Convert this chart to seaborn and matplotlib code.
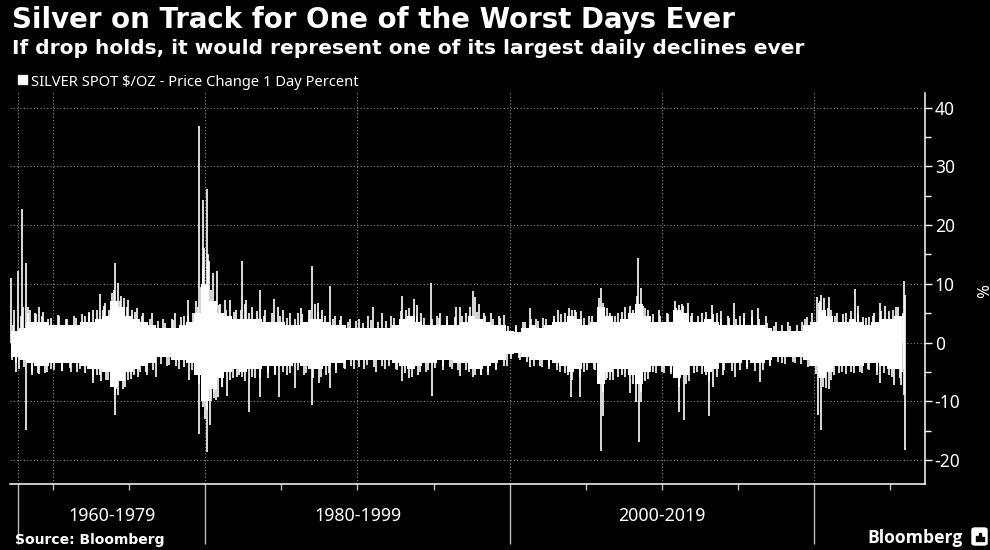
import matplotlib
matplotlib.use("Agg")
import matplotlib.pyplot as plt
import matplotlib.transforms as mtransforms
from matplotlib.patches import Rectangle, FancyBboxPatch
from matplotlib.ticker import FixedLocator, FuncFormatter, NullFormatter
import pandas as pd
import seaborn as sns

# ---------------- data ----------------
# Dense "core" band of daily % changes, one value per half-year (centre 1967.5 ... 2025.5)
core_up = [2.0, 2.5, 3.5, 3.5, 3.5, 3.0, 3.0, 3.0, 3.0, 3.5,
           3.5, 4.0, 4.5, 7.0, 6.0, 4.5, 4.0, 3.5, 3.0, 2.5,
           2.5, 2.5, 3.0, 3.5, 5.0, 10.0, 7.0, 5.0, 4.5, 4.0,
           4.0, 4.0, 4.0, 3.5, 3.5, 3.5, 3.0, 3.0, 3.5, 4.0,
           4.0, 3.5, 3.0, 3.0, 2.5, 2.5, 2.5, 2.5, 2.5, 2.5,
           3.0, 4.0, 4.5, 3.5, 3.0, 3.0, 3.0, 3.0, 3.0, 3.5,
           4.5, 4.0, 3.5, 3.0, 3.0, 2.0, 1.8, 2.5, 3.0, 2.5,
           3.0, 3.5, 3.5, 4.5, 4.0, 3.0, 3.5, 6.0, 4.5, 3.5,
           4.0, 5.0, 6.5, 4.5, 3.5, 3.5, 3.5, 5.5, 5.0, 3.5,
           3.5, 4.0, 3.5, 3.0, 3.0, 3.0, 3.0, 3.0, 3.0, 2.5,
           2.0, 2.0, 2.0, 2.0, 3.0, 3.5, 5.5, 4.5, 3.5, 3.5,
           4.0, 3.5, 3.0, 3.5, 4.0, 4.0, 4.5]
core_down = [-2.5, -3.0, -3.5, -4.0, -4.0, -3.5, -3.5, -3.5, -3.5, -4.0,
             -4.5, -4.5, -5.0, -7.5, -6.5, -5.0, -4.5, -4.0, -3.5, -2.5,
             -2.5, -3.0, -3.0, -3.5, -5.5, -10.0, -8.0, -6.0, -5.0, -4.5,
             -5.0, -4.5, -4.5, -4.0, -4.0, -4.0, -4.0, -3.5, -4.0, -4.5,
             -4.5, -4.0, -3.5, -3.5, -3.0, -3.0, -3.0, -3.0, -3.0, -3.0,
             -3.5, -4.0, -4.5, -4.0, -3.5, -3.5, -3.0, -3.0, -3.5, -3.5,
             -4.5, -4.5, -4.0, -3.5, -3.0, -2.0, -1.8, -2.5, -3.0, -3.0,
             -3.0, -3.5, -4.0, -5.0, -4.5, -3.5, -3.5, -7.0, -5.0, -4.5,
             -4.5, -5.5, -7.0, -5.0, -4.0, -4.0, -4.0, -6.0, -5.5, -4.0,
             -4.0, -5.0, -4.5, -3.5, -3.5, -3.5, -3.0, -3.5, -3.5, -3.0,
             -2.5, -2.5, -2.5, -2.5, -3.0, -4.0, -6.0, -5.0, -4.0, -4.0,
             -4.0, -4.0, -3.5, -3.5, -4.0, -4.5, -4.5]
core_years = [1967.5 + 0.5 * i for i in range(len(core_up))]

# Fringe of frequent moderate moves sticking out of the core, one up / one down per half-year
fringe_up = [3.0, 4.5, 5.0, 4.8, 5.2, 4.2, 4.5, 4.0, 4.6, 4.8,
             5.2, 5.6, 6.2, 8.5, 7.0, 6.0, 5.2, 4.6, 4.0, 3.6,
             3.4, 3.8, 4.4, 4.6, 7.0, 12.5, 9.0, 6.4, 5.6, 5.2,
             5.5, 5.0, 5.4, 4.6, 5.0, 4.5, 4.2, 4.0, 4.8, 5.5,
             5.2, 4.6, 4.0, 3.8, 3.5, 3.6, 3.4, 3.8, 3.5, 3.6,
             4.2, 5.4, 5.8, 4.6, 4.2, 4.0, 4.2, 3.8, 4.4, 4.6,
             6.0, 5.2, 4.5, 4.0, 4.2, 2.8, 2.6, 3.5, 4.0, 3.6,
             4.0, 4.6, 4.8, 5.8, 5.2, 4.2, 4.6, 7.5, 5.8, 4.6,
             5.2, 6.2, 8.0, 5.8, 4.8, 4.6, 4.8, 7.0, 6.2, 4.6,
             4.5, 5.2, 4.8, 4.0, 4.2, 4.0, 4.2, 4.4, 4.0, 3.4,
             2.8, 3.0, 2.8, 3.0, 4.0, 5.0, 7.0, 5.8, 4.6, 4.8,
             5.4, 4.8, 4.2, 4.6, 5.4, 5.4, 6.0]
fringe_down = [-3.5, -4.2, -5.0, -5.4, -5.0, -4.6, -4.8, -4.4, -5.0, -5.2,
               -5.8, -5.6, -6.4, -9.0, -8.0, -6.2, -5.8, -5.0, -4.6, -3.6,
               -3.8, -4.0, -4.2, -4.6, -7.0, -11.5, -9.5, -7.5, -6.4, -5.8,
               -6.5, -5.8, -6.0, -5.2, -5.4, -5.0, -5.2, -4.6, -5.2, -6.0,
               -5.8, -5.2, -4.6, -4.4, -4.0, -4.2, -3.8, -4.2, -4.0, -4.0,
               -4.6, -5.2, -5.8, -5.0, -4.6, -4.4, -4.0, -4.2, -4.6, -4.6,
               -5.8, -5.6, -5.0, -4.6, -4.0, -2.8, -2.6, -3.4, -4.0, -4.2,
               -4.0, -4.6, -5.2, -6.4, -5.8, -4.6, -4.6, -8.5, -6.4, -5.8,
               -5.8, -7.0, -8.5, -6.2, -5.2, -5.2, -5.4, -7.5, -7.0, -5.2,
               -5.4, -6.5, -5.8, -4.6, -4.8, -4.6, -4.2, -4.8, -4.6, -4.0,
               -3.4, -3.6, -3.4, -3.6, -4.2, -5.4, -7.5, -6.4, -5.2, -5.4,
               -5.2, -5.2, -4.6, -4.8, -5.2, -5.8, -6.0]

# Individual large daily moves (year, % change)
spike_years = [
    1967.27, 1967.28, 1967.45, 1967.60, 1967.70, 1967.75, 1968.00, 1968.05, 1968.20, 1968.22,
    1968.35, 1968.50, 1968.60, 1968.80, 1969.00, 1969.10, 1969.30, 1969.50, 1969.70, 1969.90,
    1970.35, 1970.60, 1970.90, 1971.20, 1971.50, 1971.80, 1972.10, 1972.40, 1972.60, 1972.62,
    1972.90, 1973.10, 1973.15, 1973.30, 1973.45, 1973.50, 1973.70, 1973.85, 1974.00, 1974.07,
    1974.08, 1974.15, 1974.27, 1974.30, 1974.50, 1974.66, 1974.70, 1974.90, 1974.92, 1975.20,
    1975.30, 1975.50, 1975.70, 1975.90, 1976.20, 1976.50, 1976.80, 1977.20, 1977.50, 1977.80,
    1978.00, 1978.30, 1978.60, 1978.90, 1978.92, 1979.20, 1979.35, 1979.50, 1979.60, 1979.62,
    1979.70, 1979.83, 1979.85, 1979.95, 1980.00, 1980.10, 1980.12, 1980.20, 1980.27, 1980.30,
    1980.40, 1980.50, 1980.55, 1980.70, 1980.80, 1980.82, 1981.00, 1981.10, 1981.30, 1981.45,
    1981.60, 1981.80, 1982.00, 1982.20, 1982.40, 1982.42, 1982.60, 1982.70, 1982.90, 1983.10,
    1983.30, 1983.60, 1983.62, 1983.90, 1984.10, 1984.50, 1984.60, 1984.80, 1984.82, 1985.10,
    1985.40, 1985.60, 1985.90, 1986.10, 1986.30, 1986.50, 1986.80, 1987.00, 1987.02, 1987.20,
    1987.40, 1987.45, 1987.70, 1987.90, 1988.20, 1988.22, 1988.50, 1988.60, 1988.90, 1989.20,
    1989.50, 1989.80, 1990.10, 1990.40, 1990.70, 1991.00, 1991.20, 1991.60, 1991.80, 1992.20,
    1992.50, 1992.90, 1992.95, 1993.20, 1993.40, 1993.70, 1993.90, 1993.95, 1994.20, 1994.50,
    1994.80, 1994.90, 1995.20, 1995.40, 1995.60, 1995.90, 1996.20, 1996.50, 1996.70, 1996.75,
    1997.10, 1997.30, 1997.60, 1997.70, 1997.75, 1998.00, 1998.10, 1998.30, 1998.60, 1998.80,
    1999.10, 1999.30, 1999.60, 1999.80, 2000.40, 2000.70, 2001.00, 2001.30, 2001.32, 2001.70,
    2002.00, 2002.20, 2002.60, 2002.90, 2003.20, 2003.30, 2003.60, 2003.80, 2004.00, 2004.10,
    2004.30, 2004.60, 2004.70, 2004.90, 2005.20, 2005.50, 2005.80, 2006.00, 2006.02, 2006.10,
    2006.15, 2006.30, 2006.40, 2006.60, 2006.80, 2007.10, 2007.40, 2007.60, 2007.90, 2008.10,
    2008.30, 2008.45, 2008.46, 2008.60, 2008.62, 2008.75, 2008.90, 2009.10, 2009.40, 2009.80,
    2010.00, 2010.30, 2010.60, 2010.90, 2011.10, 2011.12, 2011.30, 2011.45, 2011.70, 2011.80,
    2012.00, 2012.30, 2012.60, 2012.90, 2013.10, 2013.30, 2013.32, 2013.60, 2013.85, 2014.00,
    2014.30, 2014.70, 2014.80, 2015.10, 2015.40, 2015.60, 2015.90, 2016.30, 2016.45, 2016.80,
    2017.10, 2017.50, 2017.90, 2018.30, 2018.70, 2019.20, 2019.50, 2019.70, 2020.20, 2020.22,
    2020.30, 2020.45, 2020.47, 2020.55, 2020.65, 2020.80, 2020.95, 2020.97, 2021.10, 2021.30,
    2021.50, 2021.80, 2022.10, 2022.40, 2022.70, 2022.90, 2023.00, 2023.20, 2023.50, 2023.60,
    2023.90, 2024.10, 2024.30, 2024.32, 2024.65, 2024.90, 2025.20, 2025.22, 2025.50, 2025.70,
    2025.78, 2025.80, 2025.84, 2025.86, 2025.90, 2025.92, 2025.95, 2025.97]
spike_values = [
    11.0, -3.0, 5.5, -5.0, 12.1, -4.5, 22.7, 6.0, 13.6, -14.9,
    6.0, 5.5, -5.5, 5.0, -5.2, 6.1, 4.5, -5.2, 4.0, -4.5,
    4.7, -4.8, 4.0, -5.0, 4.2, -4.5, 4.5, 5.0, 5.6, -6.9,
    -5.5, 8.3, -6.6, 5.5, 6.7, -6.4, 5.5, -5.8, 9.0, 13.6,
    -12.3, -8.0, 10.2, -9.0, 8.0, 7.6, -7.5, 7.3, -6.4, 5.5,
    -5.5, 5.9, -5.0, 5.0, -5.5, 5.0, -5.8, 4.0, -4.0, 4.0,
    5.0, -4.5, 4.5, 7.3, -6.4, 5.0, -5.0, 6.0, 36.9, -15.5,
    9.5, 24.3, -11.0, 16.1, -13.0, 26.1, -18.6, 15.0, 13.8, -14.0,
    -10.0, 11.8, -8.5, -9.8, 12.1, -9.2, 6.5, -7.5, 7.3, -9.1,
    7.3, -6.0, 5.5, -5.5, 13.8, -5.8, 6.5, 7.3, -11.8, 6.0,
    -6.0, 9.0, -9.2, 5.5, -6.0, 7.4, -5.5, 6.1, -9.2, 5.5,
    -5.5, 5.0, -7.8, 5.0, 5.9, -5.5, 5.5, 13.0, -10.6, 6.5,
    6.7, -6.9, 5.5, -5.5, 9.7, -7.8, 4.5, -5.2, 4.5, -4.5,
    4.0, -4.5, 4.0, -4.5, 4.5, 6.1, -5.0, 5.1, -4.5, 4.5,
    -4.5, 8.0, -6.6, 5.5, -6.0, 7.4, 6.4, -5.5, 5.0, -5.0,
    10.2, -9.1, 4.5, 5.1, -4.7, 4.5, -4.5, 6.1, 6.1, -5.7,
    5.0, -5.0, 8.7, 7.8, -5.5, 6.5, -5.5, 5.0, -5.5, 5.0,
    -4.5, 4.5, 4.7, -4.0, 3.0, -3.0, 3.5, 5.9, -4.1, 4.0,
    -4.0, 4.2, -4.5, 4.0, 5.6, -5.0, 5.0, -5.5, -9.2, 5.5,
    5.5, -9.3, 5.3, -5.0, 4.5, -4.5, 5.0, 9.3, -18.4, -12.6,
    6.7, -6.4, -6.0, 5.0, -6.4, 5.0, -5.5, 6.1, -8.6, 5.5,
    -10.1, 14.4, -16.9, 9.3, -10.1, 6.3, -6.5, 5.5, -5.0, 5.6,
    -5.0, 5.0, -5.0, 5.9, 6.4, -11.8, 6.5, -13.2, 6.7, -6.5,
    5.0, -5.0, 5.0, -5.5, -12.5, 6.4, -7.5, 5.0, 5.3, -5.5,
    4.5, 6.7, -5.8, 4.5, 5.1, -4.5, 5.6, 5.9, -6.8, 4.5,
    -4.0, 3.5, -3.5, 3.5, -3.5, 3.5, 4.4, -4.0, 7.8, -12.3,
    6.7, 8.1, -14.9, -6.0, 7.5, -7.8, 7.8, -8.0, 5.5, -5.5,
    5.0, -5.0, 5.0, -5.0, 9.1, 6.3, -5.0, 4.4, -4.5, 4.4,
    5.0, -5.5, 6.7, -6.9, 6.3, -5.5, 5.6, -7.2, 6.0, -7.2,
    -5.0, 5.0, 4.5, -4.5, 10.4, -8.9, 8.1, -18.3]

y_ticks = [-20, -10, 0, 10, 20, 30, 40]
y_minor = [-15, -5, 5, 15, 25, 35]
period_bounds = [1967.7, 1980, 2000, 2020]
period_labels = ["1960-1979", "1980-1999", "2000-2019"]
x_minor = [1970, 1975, 1985, 1990, 1995, 2005, 2010, 2015, 2025]
x_grid = [1967.7, 1970, 1980, 1990, 2000, 2010, 2020]

title = "Silver on Track for One of the Worst Days Ever"
subtitle = "If drop holds, it would represent one of its largest daily declines ever"
legend_label = "SILVER SPOT $/OZ - Price Change 1 Day Percent"
source = "Source: Bloomberg"

# ---------------- styling ----------------
sns.set_theme(style="dark")
plt.rcParams["font.family"] = ["Noto Sans", "DejaVu Sans"]
HEAD = ["DejaVu Sans"]
BOLD = ["Open Sans", "DejaVu Sans"]
W, H = 990, 550
fig = plt.figure(figsize=(W / 100, H / 100), dpi=100, facecolor="black")


def fx(px):
    return px / W


def fy(py):
    return 1 - py / H


ax = fig.add_axes([fx(10), fy(484), fx(925) - fx(10), fy(93) - fy(484)])
ax.set_facecolor("black")

core = pd.DataFrame({"year": core_years, "up": core_up, "down": core_down})
for col in ["up", "down"]:
    sns.barplot(data=core, x="year", y=col, native_scale=True, width=1.0,
                color="white", saturation=1, errorbar=None, linewidth=0,
                edgecolor="white", ax=ax, zorder=3)
fringe_up_x = [y - 0.12 for y in core_years]
fringe_down_x = [y + 0.1 for y in core_years]
ax.vlines(fringe_up_x, 0, fringe_up, colors="white", linewidth=1.2, zorder=3)
ax.vlines(fringe_down_x, 0, fringe_down, colors="white", linewidth=1.2, zorder=3)
ax.vlines(spike_years, 0, spike_values, colors="white", linewidth=1.2, zorder=3)

ax.set_xlim(1967.18, 2027.27)
ax.set_ylim(-24.1, 42.5)
ax.set_xlabel("")
ax.set_ylabel("")

# grid
for v in y_ticks:
    ax.axhline(v, color="#8a8a8a", lw=0.8, ls=(0, (1, 2)), zorder=1)
for v in x_grid:
    ax.axvline(v, color="#8a8a8a", lw=0.8, ls=(0, (1, 2)), zorder=1)
ax.grid(False)

# spines
for s in ["left", "top"]:
    ax.spines[s].set_visible(False)
for s in ["right", "bottom"]:
    ax.spines[s].set_visible(True)
    ax.spines[s].set_color("white")
    ax.spines[s].set_linewidth(1.1)

# y axis on right
ax.yaxis.tick_right()
ax.yaxis.set_major_locator(FixedLocator(y_ticks))
ax.yaxis.set_minor_locator(FixedLocator(y_minor))
ax.yaxis.set_major_formatter(FuncFormatter(lambda v, p: f"{int(v)}"))
ax.tick_params(axis="y", which="major", length=5, width=1, colors="white",
               labelsize=12.5, pad=2, right=True, left=False)
ax.tick_params(axis="y", which="minor", length=4, width=1, colors="white",
               right=True, left=False)

# x axis ticks
ax.xaxis.set_major_locator(FixedLocator(period_bounds))
ax.xaxis.set_minor_locator(FixedLocator(x_minor))
ax.xaxis.set_major_formatter(NullFormatter())
ax.tick_params(axis="x", which="major", length=43, width=1, color="#bbbbbb",
               bottom=True, top=False)
ax.tick_params(axis="x", which="minor", length=4, width=1, color="#bbbbbb",
               bottom=True, top=False)

trans = mtransforms.blended_transform_factory(ax.transData, ax.transAxes)
label_y = (484 - 516) / 391
for lab, a, b in zip(period_labels, period_bounds[:-1], period_bounds[1:]):
    ax.text((a + b) / 2, label_y, lab, transform=trans, ha="center", va="center",
            color="white", fontsize=12.8)

fig.text(fx(979), fy(291), "%", rotation=270, color="white", fontsize=12,
         ha="center", va="center")

# titles
fig.text(fx(12), fy(28), title, color="white", fontsize=19.9, fontweight="bold",
         family=HEAD, ha="left", va="baseline")
fig.text(fx(12), fy(54), subtitle, color="white", fontsize=14.5, fontweight="bold",
         family=HEAD, ha="left", va="baseline")
fig.patches.append(Rectangle((fx(18), fy(84)), fx(9), fy(75) - fy(84),
                             transform=fig.transFigure, color="white"))
fig.text(fx(31), fy(86), legend_label, color="white", fontsize=10.6,
         ha="left", va="baseline")
fig.text(fx(15), fy(544), source, color="white", fontsize=10.0, fontweight="bold",
         family=HEAD, ha="left", va="baseline")
fig.text(fx(963), fy(543), "Bloomberg", color="white", fontsize=12.6,
         fontweight="bold", family=BOLD, ha="right", va="baseline")
fig.patches.append(FancyBboxPatch((fx(972), fy(545)), fx(15), fy(528) - fy(545),
                                  boxstyle="round,pad=0,rounding_size=0.003",
                                  transform=fig.transFigure, color="white"))
for bx, bh in [(976, 5), (979, 8), (982, 4)]:
    fig.patches.append(Rectangle((fx(bx), fy(541)), fx(1.6), fy(541 - bh) - fy(541),
                                 transform=fig.transFigure, color="black"))

fig.savefig("out.png", dpi=100, facecolor="black")
